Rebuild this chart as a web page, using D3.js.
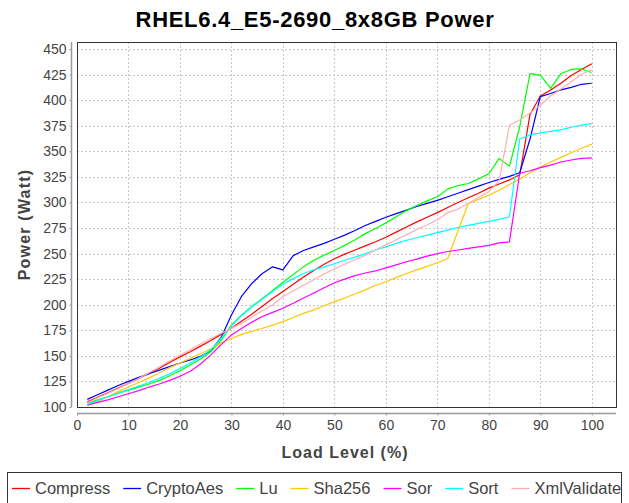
<!DOCTYPE html>
<html>
<head>
<meta charset="utf-8">
<script src="https://cdn.jsdelivr.net/npm/d3@7"></script>
<style>
  html, body { margin: 0; padding: 0; background: #fff; }
  svg { display: block; font-family: "Liberation Sans", Arial, sans-serif; }
</style>
</head>
<body>
<svg id="chart" width="629" height="503"></svg>
<script>
const svg = d3.select("#chart");

const chartTitle = "RHEL6.4_E5-2690_8x8GB Power";
const xLabel = "Load Level (%)";
const yLabel = "Power (Watt)";

const loadLevels = [2, 4, 6, 8, 10, 12, 14, 16, 18, 20, 22, 24, 26, 28, 30, 32, 34, 36, 38, 40,
  42, 44, 46, 48, 50, 52, 54, 56, 58, 60, 62, 64, 66, 68, 70, 72, 74, 76, 78, 80,
  82, 84, 86, 88, 90, 92, 94, 96, 98, 100];

const compressValues = [105, 109.5, 114, 118.5, 123, 128, 133, 138, 143.5, 149, 154, 159.5, 165, 171, 177, 184, 191, 198.5, 206, 213,
  220, 227, 233.5, 239.5, 245, 249.5, 253.5, 257.5, 261.5, 266, 271, 276, 281, 285.5, 290, 295, 300, 304.5, 309, 314,
  318, 322, 327, 386, 404, 410, 416.5, 424, 430, 435.5];

const cryptoAesValues = [107.5, 112, 116.5, 121, 125, 129, 132.5, 136, 139.5, 143, 146, 149.5, 155, 168, 190, 208.5, 221, 230.5, 237, 234,
  248, 253, 256.5, 260, 264, 268, 272.5, 277.5, 281.5, 285.5, 289, 292.5, 296, 299, 302, 305.5, 309, 312.5, 316, 319.5,
  322.5, 325.5, 329, 362, 403.5, 406.5, 410, 412.5, 415.5, 416.5];

const luValues = [103.5, 107, 110, 113.5, 116.5, 119.5, 122.5, 126, 130.5, 135.5, 141, 147, 154, 165, 180, 190, 198.5, 206, 214, 222,
  229.5, 237, 243.5, 248.5, 253, 258, 263.5, 269.5, 274.5, 280, 286, 292, 297, 301.5, 305.5, 313, 316.5, 318.5, 323, 328,
  343, 335.5, 374, 426, 424.5, 411.5, 426, 430, 430.5, 427];

const sha256Values = [101, 105.5, 110, 115, 119.5, 124, 128.5, 133.5, 138.5, 143, 147.5, 152, 157, 162.5, 167, 171, 174, 177, 180, 183.5,
  187.5, 191.5, 195, 199, 203, 206.5, 210.5, 214.5, 219, 222.5, 226.5, 230.5, 234, 237.5, 241, 245, 272, 299, 303, 307,
  312, 317.5, 323, 329, 334.5, 339.5, 344, 348.5, 353, 357];

const sorValues = [102, 104.5, 107, 110, 113, 116, 119.5, 122.5, 126, 130, 135, 142, 151, 161, 170.5, 177, 183, 188.5, 192.5, 196.5,
  201.5, 206.5, 211.5, 216.5, 221.5, 225, 228.5, 231, 233, 236, 239, 242, 244.5, 247.5, 250, 252, 253.5, 255, 256.5, 258,
  260.5, 261.5, 328.5, 331, 334, 336.5, 339.5, 341.5, 343, 343.5];

const sortValues = [102.5, 106.5, 110, 113.5, 117, 120.5, 124, 128, 132.5, 137.5, 143, 149, 156, 167, 179, 189.5, 198, 205.5, 213, 220,
  225.5, 230.5, 234, 237, 240, 243.5, 246.5, 250, 253.5, 256.5, 260, 263, 265.5, 268, 270.5, 273, 275.5, 277.5, 279.5, 281.5,
  283.5, 286, 362, 366, 368, 369.5, 371, 373.5, 375.5, 377];

const xmlValidateValues = [104, 109, 113.5, 118, 123, 128, 133.5, 139, 145, 150.5, 156, 161.5, 167, 172, 177, 182, 188, 194, 200, 208,
  213.5, 219, 224.5, 230, 235, 239.5, 244, 248.5, 253.5, 258.5, 263.5, 268.5, 273.5, 278, 283, 290, 293.5, 299, 305, 310.5,
  321, 375.5, 380.5, 387.5, 395, 404, 411, 418, 425.5, 429.5];

const seriesNames = ["Compress", "CryptoAes", "Lu", "Sha256", "Sor", "Sort", "XmlValidate"];
const seriesColors = ["#ff0000", "#0000ff", "#00ff00", "#ffc800", "#ff00ff", "#00ffff", "#ffafaf"];
const seriesValues = [compressValues, cryptoAesValues, luValues, sha256Values, sorValues, sortValues, xmlValidateValues];

const xTicks = [0, 10, 20, 30, 40, 50, 60, 70, 80, 90, 100];
const yTicks = [100, 125, 150, 175, 200, 225, 250, 275, 300, 325, 350, 375, 400, 425, 450];

const series = seriesNames.map((name, i) => ({
  name,
  color: seriesColors[i],
  points: loadLevels.map((x, j) => ({ x, y: seriesValues[i][j] }))
}));

const plot = { left: 77, right: 616, top: 42, bottom: 407 };

const x = d3.scaleLinear().domain([0, 104.7]).range([plot.left, plot.right]);
const y = d3.scaleLinear().domain([100, 456.84]).range([plot.bottom, plot.top]);

// title
svg.append("text")
  .attr("x", 315)
  .attr("y", 27)
  .attr("text-anchor", "middle")
  .attr("font-size", 22)
  .attr("font-weight", "bold")
  .attr("fill", "#000")
  .style("letter-spacing", "0.7px")
  .text(chartTitle);

// grid
const grid = svg.append("g")
  .attr("stroke", "#c8c8c8")
  .attr("stroke-width", 1)
  .attr("stroke-dasharray", "2,2")
  .attr("shape-rendering", "crispEdges");

grid.selectAll("line.h")
  .data(yTicks)
  .join("line")
  .attr("class", "h")
  .attr("x1", plot.left)
  .attr("x2", plot.right)
  .attr("y1", d => Math.round(y(d)) + 0.5)
  .attr("y2", d => Math.round(y(d)) + 0.5);

grid.selectAll("line.v")
  .data(xTicks)
  .join("line")
  .attr("class", "v")
  .attr("y1", plot.top)
  .attr("y2", plot.bottom)
  .attr("x1", d => Math.round(x(d)) + 0.5)
  .attr("x2", d => Math.round(x(d)) + 0.5);

// lines
const line = d3.line()
  .x(d => x(d.x))
  .y(d => y(d.y));

svg.append("g")
  .selectAll("path")
  .data(series)
  .join("path")
  .attr("fill", "none")
  .attr("stroke", d => d.color)
  .attr("stroke-width", 1.2)
  .attr("stroke-linejoin", "round")
  .attr("d", d => line(d.points));

// plot border
svg.append("rect")
  .attr("x", plot.left + 0.5)
  .attr("y", plot.top + 0.5)
  .attr("width", plot.right - plot.left)
  .attr("height", plot.bottom - plot.top)
  .attr("fill", "none")
  .attr("stroke", "#333")
  .attr("stroke-width", 1)
  .attr("shape-rendering", "crispEdges");

// axes
const yAxis = svg.append("g")
  .attr("transform", "translate(71.5,0)")
  .call(d3.axisLeft(y).tickValues(yTicks).tickSizeInner(2).tickSizeOuter(0).tickPadding(3));

const xAxis = svg.append("g")
  .attr("transform", "translate(0,413.5)")
  .call(d3.axisBottom(x).tickValues(xTicks).tickSizeInner(2).tickSizeOuter(0).tickPadding(5));

[yAxis, xAxis].forEach(axis => {
  axis.select(".domain").attr("stroke", "#999").attr("stroke-width", 1.5);
  axis.selectAll(".tick line").attr("stroke", "#999");
  axis.selectAll(".tick text")
    .attr("fill", "#444")
    .attr("font-size", 14)
    .attr("font-family", "'Liberation Sans', Arial, sans-serif");
});

yAxis.select(".domain").attr("d", `M0,${plot.top}V${plot.bottom}`);
xAxis.select(".domain").attr("d", `M${plot.left},0H${plot.right}`);

// axis labels
svg.append("text")
  .attr("x", 345)
  .attr("y", 458)
  .attr("text-anchor", "middle")
  .attr("font-size", 16)
  .attr("font-weight", "bold")
  .attr("fill", "#444")
  .style("letter-spacing", "1px")
  .text(xLabel);

svg.append("text")
  .attr("transform", `translate(30,${(plot.top + plot.bottom) / 2}) rotate(-90)`)
  .attr("text-anchor", "middle")
  .attr("font-size", 16)
  .attr("font-weight", "bold")
  .attr("fill", "#444")
  .style("letter-spacing", "1.2px")
  .text(yLabel);

// legend
svg.append("rect")
  .attr("x", 7.5)
  .attr("y", 472.5)
  .attr("width", 614)
  .attr("height", 40)
  .attr("fill", "#fff")
  .attr("stroke", "#333");

const legend = svg.append("g");
let cursor = 12;
series.forEach(s => {
  legend.append("line")
    .attr("x1", cursor)
    .attr("x2", cursor + 18)
    .attr("y1", 488.5)
    .attr("y2", 488.5)
    .attr("stroke", s.color)
    .attr("stroke-width", 1.3);
  const label = legend.append("text")
    .attr("x", cursor + 23)
    .attr("y", 494)
    .attr("font-size", 16.5)
    .attr("fill", "#444")
    .text(s.name);
  cursor += 23 + label.node().getComputedTextLength() + 13;
});
</script>
</body>
</html>
